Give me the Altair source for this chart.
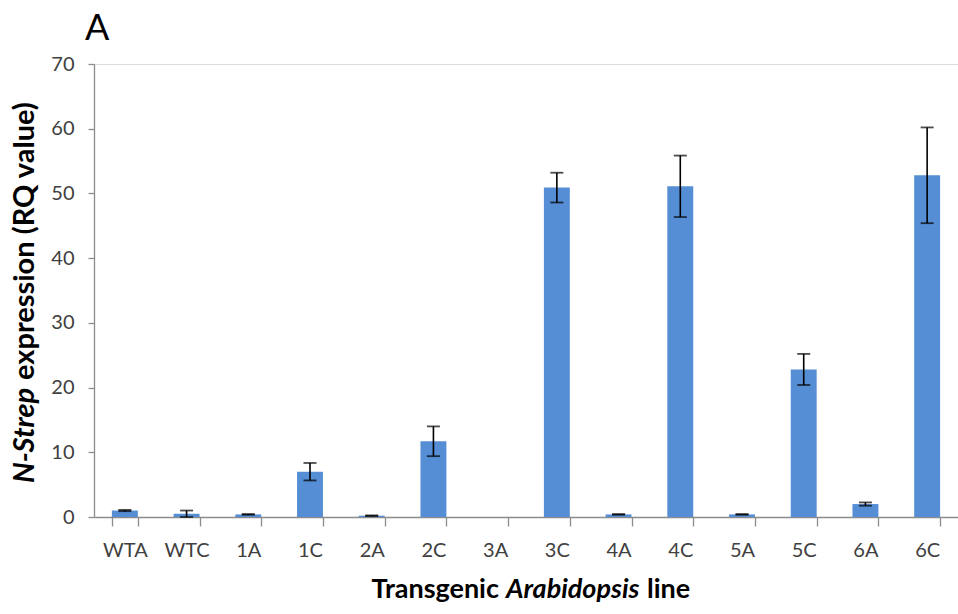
import altair as alt
import pandas as pd

# Relative quantification of N-Strep per line (mean and error)
lines = ["WTA", "WTC", "1A", "1C", "2A", "2C", "3A", "3C", "4A", "4C", "5A", "5C", "6A", "6C"]
rq = [1.0, 0.5, 0.4, 7.0, 0.2, 11.7, 0.0, 50.9, 0.4, 51.1, 0.4, 22.8, 2.0, 52.8]
err = [0.1, 0.5, 0.05, 1.35, 0.05, 2.3, 0.0, 2.3, 0.05, 4.75, 0.05, 2.4, 0.25, 7.4]
y_ticks = [0, 10, 20, 30, 40, 50, 60, 70]

FONT = "Lato"
W, H = 864, 453

df = pd.DataFrame({"line": lines, "rq": rq, "err": err})
df["lo"] = df["rq"] - df["err"]
df["hi"] = df["rq"] + df["err"]
df_err = df[df["err"] > 0]
df_bar = df[df["rq"] > 0]

x_enc = alt.X(
    "line:N",
    sort=lines,
    scale=alt.Scale(domain=lines, paddingInner=0.58, paddingOuter=0.29),
    axis=alt.Axis(
        title=None, labelAngle=0, labelFontSize=20, labelColor="#404040",
        labelFont=FONT, labelPadding=14, tickSize=9, tickColor="#8c8c8c",
        domainColor="#8c8c8c", domainWidth=1.3, tickWidth=1.3, tickBand="extent",
    ),
)
y_scale = alt.Scale(domain=[0, 70], nice=False)

bars = alt.Chart(df_bar).mark_bar(color="#558ED5").encode(
    x=x_enc,
    y=alt.Y(
        "rq:Q", scale=y_scale,
        axis=alt.Axis(
            title=None, values=y_ticks, grid=False, labelFontSize=20,
            labelColor="#404040", labelFont=FONT, labelPadding=14, tickSize=6,
            tickColor="#8c8c8c", domainColor="#8c8c8c", domainWidth=1.3, tickWidth=1.3,
        ),
    ),
)

whisker = alt.Chart(df_err).mark_rule(color="#000000", strokeWidth=1.6).encode(
    x=alt.X("line:N", sort=lines), y=alt.Y("lo:Q", scale=y_scale), y2="hi:Q"
)
cap_hi = alt.Chart(df_err).mark_tick(color="#000000", orient="horizontal", size=13, thickness=1.8).encode(
    x=alt.X("line:N", sort=lines), y=alt.Y("hi:Q", scale=y_scale)
)
cap_lo = alt.Chart(df_err).mark_tick(color="#000000", orient="horizontal", size=13, thickness=1.8).encode(
    x=alt.X("line:N", sort=lines), y=alt.Y("lo:Q", scale=y_scale)
)


def label(text, x, y, size, italic=False, bold=True, align="left", angle=0, baseline="alphabetic"):
    kw = dict(
        text=text, font=FONT, fontSize=size, color="#000000", align=align,
        baseline=baseline, fontWeight="bold" if bold else "normal",
        fontStyle="italic" if italic else "normal",
    )
    if angle:
        kw["angle"] = angle
    return alt.Chart(pd.DataFrame({"k": [0]})).mark_text(**kw).encode(
        x=alt.value(x), y=alt.value(y)
    )


panel = label("A", -9, -24, 36, bold=False)

x_title = (
    label("Transgenic", 405, 534, 27, align="right")
    + label("Arabidopsis", 412, 534, 27, italic=True)
    + label("line", 553, 534, 27)
)

y_title = (
    label("N-Strep", -60, 419, 29, italic=True, angle=270)
    + label("expression (RQ value)", -60, 316, 29, angle=270)
)

chart = (
    alt.layer(bars, whisker, cap_hi, cap_lo, panel, x_title, y_title)
    .properties(
        width=W, height=H,
        autosize=alt.AutoSizeParams(type="none"),
        padding={"left": 94, "top": 64, "right": 0, "bottom": 97},
    )
    .configure_view(stroke=None)
    .configure(background="#ffffff")
)

chart.save("out.html", embed_options={"renderer": "svg", "actions": False})
